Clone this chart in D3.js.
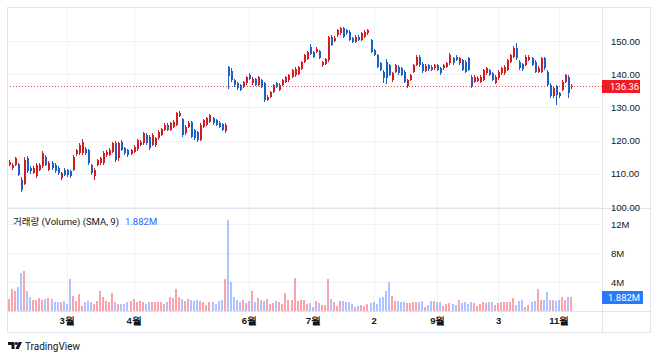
<!DOCTYPE html>
<html><head><meta charset="utf-8">
<script src="https://cdn.jsdelivr.net/npm/d3@7"></script>
<style>
body{margin:0;background:#fff;}
svg{display:block;font-family:Roboto,"Noto Sans CJK KR","Noto Sans",sans-serif;}
</style>
</head><body>
<script>
// ---- data ----
const opens=[
112.7,111.7,112.7,112.9,108.2,107.0,114.7,111.7,110.2,109.2,
111.2,112.2,115.2,111.2,113.4,112.7,111.7,108.7,111.2,111.2,
110.7,111.2,115.9,116.2,116.2,117.4,117.2,112.7,109.2,112.7,
113.2,113.2,115.7,115.7,116.7,119.2,114.7,119.7,117.7,117.2,
116.0,116.7,117.4,118.7,119.2,121.7,121.2,118.7,118.7,120.7,
121.7,123.2,124.7,123.2,124.2,124.7,127.4,126.4,122.2,124.2,
125.7,123.2,122.7,120.2,124.2,124.7,125.7,126.7,126.2,125.4,
125.0,123.0,
142.2,141.0,138.2,137.2,136.7,136.2,137.2,139.9,
137.2,138.5,136.7,138.2,137.2,132.2,133.2,134.7,137.2,135.2,
136.7,137.7,138.2,139.2,139.7,140.2,141.7,143.7,144.7,148.2,
146.7,146.7,146.9,142.7,143.2,144.2,
151.3,150.0,151.7,152.3,
153.8,153.3,152.8,150.8,149.8,151.3,150.3,151.3,152.3,150.3,
147.3,145.8,143.3,140.8,143.8,142.8,138.2,140.8,142.3,141.8,
140.8,136.3,138.3,140.8,142.8,145.3,143.2,141.0,142.8,
142.3,141.8,142.8,141.8,141.8,142.3,143.3,144.8,145.3,143.3,
144.3,143.8,144.8,139.3,137.8,138.0,137.8,138.3,140.3,141.3,
140.3,137.3,138.8,140.3,140.3,141.3,143.8,145.3,148.0,143.8,
143.0,142.8,144.3,144.8,143.8,140.8,140.8,144.8,140.8,136.8,
133.3,136.3,134.3,135.3,137.8,139.3,136.0];
const highs=[
114.3,113.2,115.2,113.4,109.0,115.0,115.5,112.4,112.2,113.2,
113.3,117.0,115.8,113.8,114.0,113.2,112.2,110.6,111.6,111.5,
111.0,115.6,117.6,119.2,120.5,118.0,117.6,113.0,111.6,114.6,
115.2,116.8,117.2,117.8,119.7,119.8,119.7,120.2,118.2,117.6,
117.6,118.6,120.6,120.2,122.6,122.2,121.6,122.2,121.2,123.2,
123.8,125.2,125.2,125.6,126.2,128.6,129.0,126.8,124.6,125.8,
126.0,123.6,123.0,125.2,126.6,127.2,128.0,127.2,126.6,125.8,
125.4,125.2,
142.6,141.8,138.6,137.6,137.0,138.0,139.6,140.4,
139.2,138.9,139.6,138.6,137.6,133.6,135.0,137.0,137.8,137.2,
138.6,139.6,140.1,141.6,142.1,142.6,144.1,146.1,147.1,149.2,
147.1,148.1,147.3,144.0,145.0,151.6,
151.8,151.4,153.7,154.2,
154.2,153.7,153.2,151.2,151.7,151.7,152.7,153.2,153.7,150.7,
147.7,146.2,143.7,141.2,144.5,143.2,140.7,143.2,142.7,142.2,
141.2,138.7,140.2,143.2,145.7,145.8,143.6,143.0,143.2,
142.7,143.2,143.2,142.2,143.2,143.7,146.3,145.2,145.7,145.2,
144.7,144.2,145.2,139.7,139.7,139.5,139.7,141.7,142.2,141.7,
140.7,139.7,141.2,142.2,142.7,144.7,146.2,148.5,149.3,144.2,
143.4,145.7,145.7,145.2,144.2,142.4,145.2,145.2,141.2,137.2,
136.2,136.7,134.7,138.2,140.0,139.7,137.0];
const lows=[
112.2,111.2,112.3,109.2,104.5,106.5,110.2,110.0,109.8,108.8,
110.8,111.8,112.2,110.7,111.2,110.2,109.6,108.0,109.2,109.0,
108.6,110.8,115.4,115.8,115.8,115.8,112.8,109.6,108.0,112.2,
112.8,112.8,115.2,115.3,116.3,113.6,113.8,116.8,115.8,115.2,
115.6,116.3,117.0,118.3,118.8,118.8,117.2,118.3,118.2,120.3,
121.3,122.8,122.8,122.8,123.8,124.3,127.0,121.2,121.8,123.8,
120.8,120.3,119.6,119.8,123.8,124.3,125.3,124.8,124.3,123.8,
122.8,122.2,
135.5,137.8,136.2,135.2,134.8,135.8,136.8,138.3,
136.8,136.3,136.3,135.8,131.6,131.8,132.8,134.3,135.8,134.8,
136.3,137.3,137.8,138.8,139.3,139.8,141.3,143.3,144.3,145.8,
144.8,146.3,144.5,142.3,142.8,143.8,
148.4,149.6,151.3,151.9,
150.9,151.9,149.9,149.4,149.4,149.9,149.9,150.9,151.9,146.4,
145.4,141.9,140.9,137.5,137.0,139.4,137.8,140.4,139.9,139.4,
137.4,135.8,137.9,140.4,142.4,142.3,140.5,140.6,141.1,
140.9,141.4,140.9,139.9,141.4,141.9,142.9,142.9,143.9,142.9,
140.9,140.4,140.9,135.8,137.4,137.6,137.4,137.9,139.9,139.4,
137.9,136.9,138.4,139.9,139.9,140.9,143.4,144.9,144.4,141.4,
141.1,142.4,143.9,142.4,140.4,140.4,140.4,141.4,136.4,132.9,
132.8,130.8,132.9,134.9,137.4,132.8,135.5];
const closes=[
113.7,112.7,114.7,109.7,105.2,114.2,110.7,110.7,111.7,112.7,
112.7,116.2,112.7,113.2,111.7,110.7,110.2,110.2,109.7,109.7,
109.2,115.2,117.2,118.7,119.7,116.2,113.2,110.2,111.2,114.2,
114.7,116.2,116.7,117.2,119.2,114.2,119.2,117.2,116.2,115.7,
117.2,118.2,120.2,119.7,122.2,119.2,117.7,121.7,120.7,122.7,
123.4,124.7,123.2,125.2,125.7,128.2,128.4,121.7,124.2,125.4,
121.2,120.7,120.2,124.7,126.2,126.7,127.7,125.2,124.7,124.2,
123.2,124.6,
139.5,138.2,136.7,135.7,135.2,137.7,139.2,138.7,
138.7,136.7,139.2,136.2,132.2,133.2,134.7,136.7,136.2,136.7,
138.2,139.2,139.7,141.2,141.7,142.2,143.7,145.7,146.7,146.2,
145.2,147.7,144.9,143.7,144.7,151.2,
148.8,151.0,153.3,153.8,
151.3,152.3,150.3,149.8,151.3,150.3,152.3,152.8,153.3,146.8,
145.8,142.3,141.3,138.8,139.0,139.8,140.3,142.8,140.3,139.8,
137.8,138.3,139.8,142.8,145.3,142.8,141.0,142.5,141.5,
141.3,142.8,141.3,140.3,142.8,143.3,145.8,143.3,144.3,144.8,
141.3,140.8,141.3,136.3,139.3,139.0,139.3,141.3,141.8,139.8,
138.3,139.3,140.8,141.8,142.3,144.3,145.8,147.8,144.8,141.8,
141.5,145.3,145.3,142.8,140.8,142.0,144.8,141.8,136.8,133.3,
135.8,133.8,133.3,137.8,139.8,134.3,136.36];
// volume in millions
const volumes=[
1.6,3.1,2.8,3.3,5.3,5.5,2.7,1.9,1.5,1.5,
1.8,1.5,1.65,1.8,1.6,1.2,1.2,1.3,1.4,1.0,
4.4,2.1,1.4,2.4,0.7,1.3,1.4,1.2,1.0,1.4,
2.8,1.9,1.4,1.2,2.5,1.2,1.0,0.9,0.9,1.3,
1.4,1.6,1.3,1.4,1.2,1.0,1.2,1.2,1.3,1.2,
1.2,1.0,1.2,1.9,1.8,3.1,1.9,1.6,1.4,1.65,
1.56,1.4,1.56,1.4,1.2,0.85,1.2,1.3,1.0,1.4,
1.56,4.4,
12.6,
4.0,1.9,1.56,1.28,1.56,1.1,1.42,2.7,1.2,1.8,
1.56,1.42,1.65,0.95,1.1,1.42,1.2,0.95,2.5,1.56,
1.56,4.6,1.42,1.56,1.56,0.95,1.1,0.5,1.42,1.1,
0.81,0.81,4.4,1.65,1.2,0.72,1.42,1.42,1.2,1.28,
0.95,0.5,0.72,0.81,0.72,0.95,1.1,1.28,0.95,1.8,
1.88,2.8,4.0,2.1,1.42,1.42,1.28,1.2,1.1,1.1,
1.28,1.28,1.28,1.42,0.6,0.81,1.42,1.42,1.28,1.2,
0.72,0.95,1.1,0.95,0.81,1.56,1.1,1.28,0.95,1.2,
1.1,0.72,0.95,1.2,1.1,1.2,1.2,0.81,1.1,1.2,
1.2,1.28,1.2,1.8,0.81,1.42,1.56,0.6,0.81,1.2,
1.42,3.0,1.56,1.56,2.6,1.56,1.56,1.42,1.56,1.88,
1.56,1.88,1.88];
const priceTicks=[100,110,120,130,140,150];
const volumeTicks=[4,8,12];
const timeLabels=["3월","4월","6월","7월","2","9월","3","11월"];
const timeTickIdx=[19,41,79,100,120,141,161,181];
const lastPrice=136.36;
const smaValue=1.882;
const legendText="거래량 (Volume) (SMA, 9)";

// ---- drawing ----
const W=658,H=358;
const L=7,T=7,R=650,B=332,AX=602,SEP=208.5,TS=311.5;
const UP="#d01c24",DOWN="#1d5fc4";
const UPV="rgba(242,54,69,0.45)",DOWNV="rgba(41,98,255,0.38)";
const GRID="#f0f3fa",BORDER="#e0e3eb",TXT="#131722";
const FS=9.5;

const svg=d3.select("body").append("svg").attr("width",W).attr("height",H);
svg.append("rect").attr("width",W).attr("height",H).attr("fill","#fff");

const n=closes.length;
const x=d3.scaleLinear().domain([0,n-1]).range([9,571]);
const y=d3.scaleLinear().domain([100,150]).range([207,41]);
const yv=d3.scaleLinear().domain([0,12]).range([311,224]);

// grid
const g=svg.append("g").attr("shape-rendering","crispEdges");
g.selectAll(".hg").data(priceTicks).join("line")
  .attr("x1",L).attr("x2",AX).attr("y1",d=>Math.round(y(d))+0.5).attr("y2",d=>Math.round(y(d))+0.5)
  .attr("stroke",GRID);
g.selectAll(".vgg").data(volumeTicks).join("line")
  .attr("x1",L).attr("x2",AX).attr("y1",d=>Math.round(yv(d))+0.5).attr("y2",d=>Math.round(yv(d))+0.5)
  .attr("stroke",GRID);
g.selectAll(".vg").data(timeTickIdx).join("line")
  .attr("x1",d=>Math.round(x(d))+0.5).attr("x2",d=>Math.round(x(d))+0.5)
  .attr("y1",T).attr("y2",TS).attr("stroke",GRID);

// current price dotted line
svg.append("line").attr("x1",L).attr("x2",AX)
  .attr("y1",Math.round(y(lastPrice))+0.5).attr("y2",Math.round(y(lastPrice))+0.5)
  .attr("stroke","#e84a4f").attr("stroke-dasharray","1,2").attr("stroke-width",1);

// volume bars
const vb=svg.append("g").attr("shape-rendering","crispEdges");
vb.selectAll("rect").data(volumes).join("rect")
  .attr("x",(d,i)=>Math.round(x(i))-1).attr("width",2)
  .attr("y",d=>yv(d)).attr("height",d=>yv(0)-yv(d))
  .attr("fill",(d,i)=>closes[i]>=opens[i]?UPV:DOWNV);

// candles
const cg=svg.append("g").attr("shape-rendering","crispEdges");
const idx=d3.range(n);
cg.selectAll("line").data(idx).join("line")
  .attr("x1",i=>Math.round(x(i))+0.5).attr("x2",i=>Math.round(x(i))+0.5)
  .attr("y1",i=>y(highs[i])).attr("y2",i=>y(lows[i]))
  .attr("stroke",i=>closes[i]>=opens[i]?UP:DOWN).attr("stroke-width",1);
cg.selectAll("rect").data(idx).join("rect")
  .attr("x",i=>Math.round(x(i))-0.5).attr("width",2)
  .attr("y",i=>y(Math.max(opens[i],closes[i])))
  .attr("height",i=>Math.max(1,Math.abs(y(opens[i])-y(closes[i]))))
  .attr("fill",i=>closes[i]>=opens[i]?UP:DOWN);

// separators & frame
const sep=svg.append("g").attr("shape-rendering","crispEdges").attr("stroke",BORDER).attr("fill","none");
sep.append("line").attr("x1",L).attr("x2",R).attr("y1",SEP).attr("y2",SEP);
sep.append("line").attr("x1",L).attr("x2",R).attr("y1",TS).attr("y2",TS);
sep.append("line").attr("x1",AX+0.5).attr("x2",AX+0.5).attr("y1",T).attr("y2",B);
sep.append("rect").attr("x",L+0.5).attr("y",T+0.5).attr("width",R-L).attr("height",B-T);

// price axis
const pa=svg.append("g").attr("transform",`translate(${AX},0)`)
  .call(d3.axisRight(y).tickValues(priceTicks).tickFormat(d3.format(".2f")).tickSize(0).tickPadding(9));
pa.select(".domain").remove();
pa.selectAll("text").attr("fill",TXT).attr("font-size",FS).attr("font-family",null);

// volume axis
const va=svg.append("g").attr("transform",`translate(${AX},0)`)
  .call(d3.axisRight(yv).tickValues(volumeTicks).tickFormat(d=>d+"M").tickSize(0).tickPadding(9));
va.select(".domain").remove();
va.selectAll("text").attr("fill",TXT).attr("font-size",FS).attr("font-family",null);

// time axis
const ta=svg.append("g").attr("transform",`translate(0,${TS})`)
  .call(d3.axisBottom(x).tickValues(timeTickIdx).tickFormat((d,i)=>timeLabels[i]).tickSize(0).tickPadding(6));
ta.select(".domain").remove();
ta.selectAll("text").attr("fill",TXT).attr("font-size",FS).attr("font-weight",700).attr("font-family",null);

// last price label
const yp=y(lastPrice);
svg.append("rect").attr("x",AX).attr("y",Math.round(yp)-6).attr("width",38).attr("height",13).attr("fill","#f01c24");
svg.append("text").attr("x",AX+8).attr("y",yp).attr("dy","0.35em").attr("fill","#fff").attr("font-size",FS).text(lastPrice.toFixed(2));

// sma volume label
const ys=yv(smaValue);
svg.append("rect").attr("x",AX).attr("y",Math.round(ys)-6).attr("width",41).attr("height",13).attr("fill","#2979ff");
svg.append("text").attr("x",AX+6).attr("y",ys).attr("dy","0.35em").attr("fill","#fff").attr("font-size",FS).text(smaValue.toFixed(3)+"M");

// legend
const lg=svg.append("text").attr("x",13).attr("y",222).attr("dy","0.35em").attr("font-size",FS).attr("fill",TXT);
lg.append("tspan").text(legendText);
lg.append("tspan").attr("dx",6).attr("fill","#2962ff").text(smaValue.toFixed(3)+"M");

// TradingView logo
const logo=svg.append("g").attr("fill",TXT);
logo.append("path").attr("d","M8,342 h6.5 v7 h-3 v-4 h-3.5 z");
logo.append("circle").attr("cx",16.3).attr("cy",343.6).attr("r",1.5);
logo.append("path").attr("d","M18.6,342 h3.4 l-3.2,7 h-3.4 z");
svg.append("text").attr("x",25).attr("y",346).attr("dy","0.35em").attr("font-size",10).attr("fill",TXT).text("TradingView");
</script>
</body></html>
